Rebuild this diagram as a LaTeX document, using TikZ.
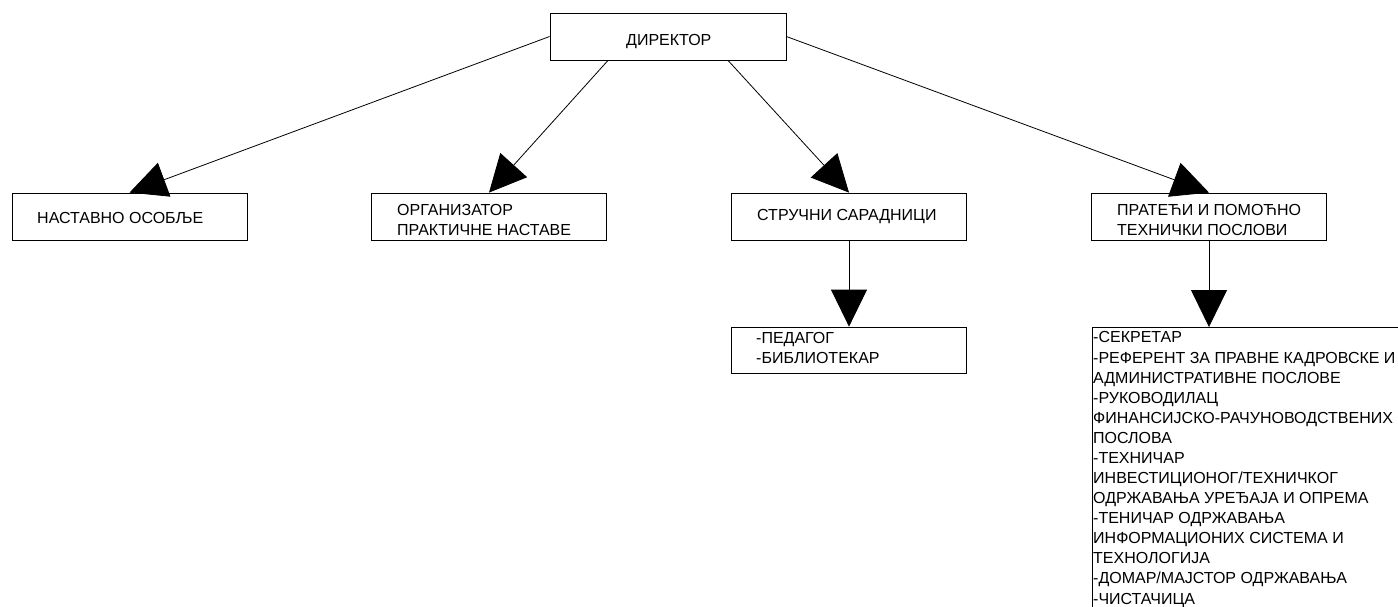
\documentclass[tikz,border=0pt]{standalone}
\usepackage{fontspec}
\setmainfont{Liberation Sans}
\usetikzlibrary{arrows.meta}
\begin{document}
\begin{tikzpicture}[x=1pt,y=-1pt,
  box/.style={draw=black, line width=0.8pt, minimum width=235pt, minimum height=47pt, inner sep=0pt},
  txt/.style={anchor=north west, inner sep=0pt, align=left, font=\fontsize{16}{20}\selectfont},
  conn/.style={draw=black, line width=0.8pt, -{Triangle[length=37pt,width=36pt]}}]
\useasboundingbox (0,0) rectangle (1398,606);
\clip (0,0) rectangle (1398,606);
\fill[white] (0,0) rectangle (1398,606);

\node[box, minimum width=236pt] (dir) at (668,36.5) {};
\node[txt] (tdir) at (626,31.7) {\strut ДИРЕКТОР};

\node[box] (b1) at (129.5,216.5) {};
\node[txt] (t1) at (37,209.7) {\strut НАСТАВНО ОСОБЉЕ};

\node[box] (b2) at (489,216.5) {};
\node[txt] (t2) at (397,201.7) {\strut ОРГАНИЗАТОР\\ПРАКТИЧНЕ НАСТАВЕ};

\node[box] (b3) at (849,216.5) {};
\node[txt] (t3) at (757,206.7) {\strut СТРУЧНИ САРАДНИЦИ};

\node[box] (b4) at (1209,216.5) {};
\node[txt] (t4) at (1117,201.7) {\strut ПРАТЕЋИ И ПОМОЋНО\\ТЕХНИЧКИ ПОСЛОВИ};

\node[box, minimum height=46pt] (b5) at (849,350) {};
\node[txt] (t5) at (756,329.7) {\strut -ПЕДАГОГ\\-БИБЛИОТЕКАР};

\node[draw=black, line width=0.8pt, anchor=north west, minimum width=340pt, minimum height=320pt, inner sep=0pt] (b6) at (1092,327) {};
\node[txt, font=\fontsize{16}{20.08}\selectfont] (t6) at (1093,328.7) {\strut -СЕКРЕТАР\\
-РЕФЕРЕНТ ЗА ПРАВНЕ КАДРОВСКЕ И\\
АДМИНИСТРАТИВНЕ ПОСЛОВЕ\\
-РУКОВОДИЛАЦ\\
ФИНАНСИЈСКО-РАЧУНОВОДСТВЕНИХ\\
ПОСЛОВА\\
-ТЕХНИЧАР\\
ИНВЕСТИЦИОНОГ/ТЕХНИЧКОГ\\
ОДРЖАВАЊА УРЕЂАЈА И ОПРЕМА\\
-ТЕНИЧАР ОДРЖАВАЊА\\
ИНФОРМАЦИОНИХ СИСТЕМА И\\
ТЕХНОЛОГИЈА\\
-ДОМАР/МАЈСТОР ОДРЖАВАЊА\\
-ЧИСТАЧИЦА};

\draw[conn] (dir.west) -- (b1.north);
\draw[conn] ([xshift=-60pt]dir.south) -- (b2.north);
\draw[conn] ([xshift=60pt]dir.south) -- (b3.north);
\draw[conn] (dir.east) -- (b4.north);
\draw[conn] (b3.south) -- (b5.north);
\draw[conn] (b4.south) -- (b4.south |- b6.north);
\end{tikzpicture}
\end{document}
